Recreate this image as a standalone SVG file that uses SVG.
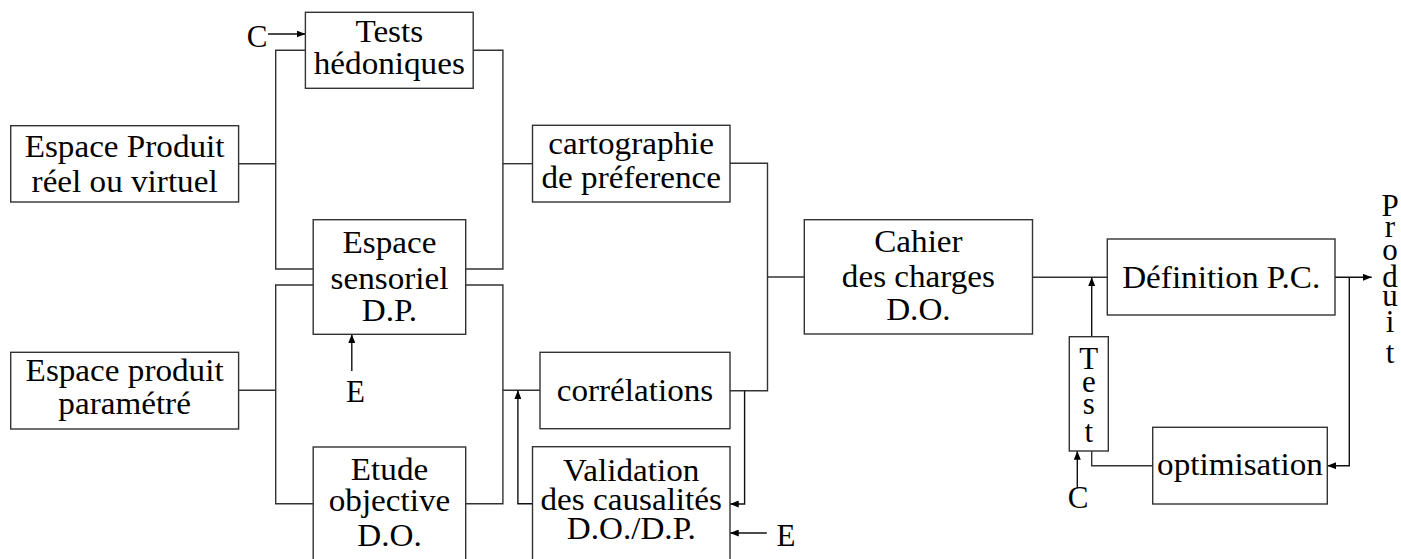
<svg xmlns="http://www.w3.org/2000/svg" width="1401" height="559" viewBox="0 0 1401 559">
<style>
  .box { fill: #fff; stroke: #333; stroke-width: 1.4; }
  .t { font-family: "Liberation Serif", "Times New Roman", serif; font-size: 31px; fill: #000; text-anchor: middle; }
  .ts { font-family: "Liberation Serif", "Times New Roman", serif; font-size: 31px; fill: #000; text-anchor: middle; }
  .c { fill: none; stroke: #333; stroke-width: 1.4; }
  .a { fill: none; stroke: #111; stroke-width: 1.4; marker-end: url(#ah); }
</style>
<defs>
  <marker id="ah" viewBox="0 0 10 8" refX="10" refY="4" markerWidth="9" markerHeight="7" markerUnits="userSpaceOnUse" orient="auto">
    <path d="M0,0 L10,4 L0,8 z" fill="#000"/>
  </marker>
</defs>
<rect width="1401" height="559" fill="#fff"/>

<g id="connectors">
  <path class="a" d="M268,34 H305.4"/>
  <path class="c" d="M305.4,50.3 H275.7 V269 H313.2"/>
  <path class="c" d="M238.6,163.7 H275.7"/>
  <path class="c" d="M473.2,50.3 H502.9 V269 H465.7"/>
  <path class="c" d="M502.9,163.7 H532.5"/>
  <path class="c" d="M313.2,285 H275.7 V503.7 H313.2"/>
  <path class="c" d="M238.6,390.3 H275.7"/>
  <path class="c" d="M465.7,285 H502.9 V503.7 H465.7"/>
  <path class="c" d="M502.9,390.3 H540"/>
  <path class="a" d="M532.5,503.7 H517.9 V390.3"/>
  <path class="a" d="M351.8,371 V334.3"/>
  <path class="c" d="M730,163.3 H767.5 V390.7 H730"/>
  <path class="c" d="M767.5,277 H804.3"/>
  <path class="a" d="M744.6,390.7 V504 H730"/>
  <path class="a" d="M766.8,533 H730"/>
  <path class="c" d="M1032.5,277.3 H1107.3"/>
  <path class="a" d="M1091.7,336.7 V277.3"/>
  <path class="c" d="M1152.7,465.7 H1091.7 V451"/>
  <path class="a" d="M1077.3,488 V451"/>
  <path class="a" d="M1335,277.3 H1371.7"/>
  <path class="a" d="M1349.3,277.3 V465.7 H1327.3"/>
</g>

<g id="espace-produit-reel">
  <rect class="box" x="10.7" y="125.7" width="227.9" height="76.3"/>
  <text class="t" transform="translate(124.6 0) scale(1.07 1)"><tspan x="0" y="156.7">Espace Produit</tspan><tspan x="0" y="192.5">réel ou virtuel</tspan></text>
</g>
<g id="tests-hedoniques">
  <rect class="box" x="305.4" y="12.3" width="167.8" height="76"/>
  <text class="t" transform="translate(389.3 0) scale(1.07 1)"><tspan x="0" y="42.5">Tests</tspan><tspan x="0" y="74">hédoniques</tspan></text>
</g>
<g id="espace-sensoriel">
  <rect class="box" x="313.2" y="219.7" width="152.5" height="114.6"/>
  <text class="t" transform="translate(389.5 0) scale(1.07 1)"><tspan x="0" y="253">Espace</tspan><tspan x="0" y="289">sensoriel</tspan><tspan x="0" y="321">D.P.</tspan></text>
</g>
<g id="espace-produit-parametre">
  <rect class="box" x="10.7" y="352.3" width="227.9" height="76.7"/>
  <text class="t" transform="translate(124.6 0) scale(1.07 1)"><tspan x="0" y="381">Espace produit</tspan><tspan x="0" y="414.5">paramétré</tspan></text>
</g>
<g id="etude-objective">
  <rect class="box" x="313.2" y="447" width="152.5" height="115"/>
  <text class="t" transform="translate(389.5 0) scale(1.07 1)"><tspan x="0" y="480">Etude</tspan><tspan x="0" y="511">objective</tspan><tspan x="0" y="546">D.O.</tspan></text>
</g>
<g id="cartographie">
  <rect class="box" x="532.5" y="125.3" width="197.5" height="76.7"/>
  <text class="t" transform="translate(631.2 0) scale(1.07 1)"><tspan x="0" y="154.5">cartographie</tspan><tspan x="0" y="188.5">de préference</tspan></text>
</g>
<g id="correlations">
  <rect class="box" x="540" y="352.3" width="190" height="76.4"/>
  <text class="t" transform="translate(635 0) scale(1.07 1)"><tspan x="0" y="401">corrélations</tspan></text>
</g>
<g id="validation">
  <rect class="box" x="532.5" y="446.7" width="197.5" height="115.3"/>
  <text class="t" transform="translate(631.2 0) scale(1.07 1)"><tspan x="0" y="481">Validation</tspan><tspan x="0" y="510">des causalités</tspan><tspan x="0" y="539">D.O./D.P.</tspan></text>
</g>
<g id="cahier">
  <rect class="box" x="804.3" y="219.7" width="228.2" height="114.3"/>
  <text class="t" transform="translate(918.4 0) scale(1.07 1)"><tspan x="0" y="252">Cahier</tspan><tspan x="0" y="287">des charges</tspan><tspan x="0" y="320">D.O.</tspan></text>
</g>
<g id="definition">
  <rect class="box" x="1107.3" y="239" width="227.7" height="76"/>
  <text class="t" transform="translate(1221.2 0) scale(1.07 1)"><tspan x="0" y="288">Définition P.C.</tspan></text>
</g>
<g id="test">
  <rect class="box" x="1069.3" y="336.7" width="39" height="114.3"/>
  <text class="ts"><tspan x="1088.8" y="369">T</tspan><tspan x="1088.8" y="392">e</tspan><tspan x="1088.8" y="413.5">s</tspan><tspan x="1088.8" y="442">t</tspan></text>
</g>
<g id="optimisation">
  <rect class="box" x="1152.7" y="427.3" width="174.6" height="76.7"/>
  <text class="t" transform="translate(1240 0) scale(1.07 1)"><tspan x="0" y="475">optimisation</tspan></text>
</g>

<g id="labels">
  <text id="lbl-c1" class="ts" x="257" y="46.7">C</text>
  <text id="lbl-e1" class="ts" x="355.4" y="401.7">E</text>
  <text id="lbl-e2" class="ts" x="786" y="546">E</text>
  <text id="lbl-c2" class="ts" x="1078" y="508">C</text>
  <text id="lbl-produit" class="ts"><tspan x="1390" y="215.5">P</tspan><tspan x="1390" y="237">r</tspan><tspan x="1390" y="259.5">o</tspan><tspan x="1390" y="286.7">d</tspan><tspan x="1390" y="306">u</tspan><tspan x="1390" y="332">i</tspan><tspan x="1390" y="363">t</tspan></text>
</g>
</svg>
